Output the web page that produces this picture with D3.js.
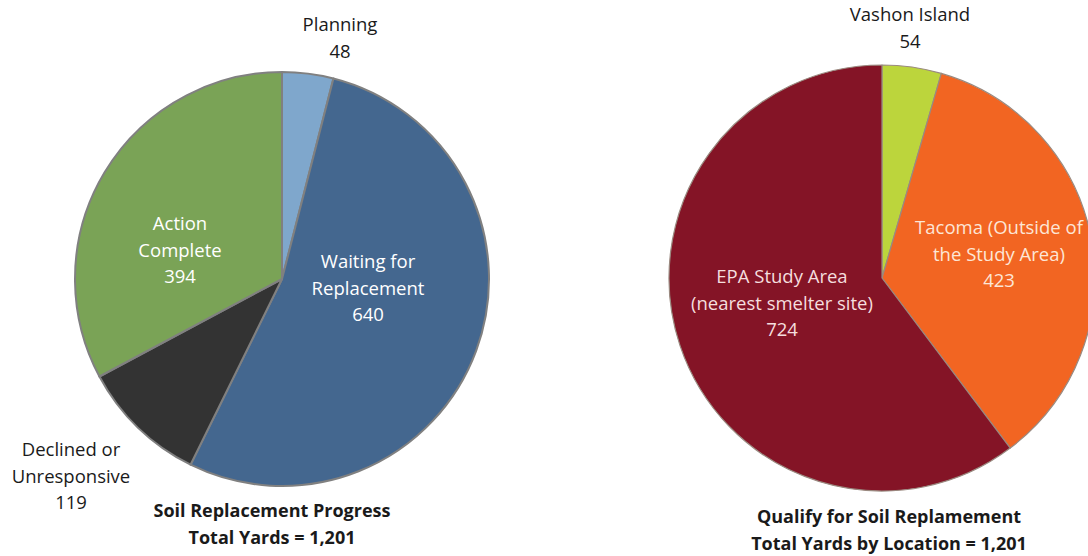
<!DOCTYPE html>
<html>
<head>
<meta charset="utf-8">
<script src="https://cdn.jsdelivr.net/npm/d3@7"></script>
<style>
  body { margin: 0; background: #fff; }
  svg text { font-family: "Open Sans", "Noto Sans", sans-serif; }
</style>
</head>
<body>
<svg id="chart" width="1088" height="556"></svg>
<script>
// left pie: progress
var progressNames = ["Planning", "Waiting for Replacement", "Declined or Unresponsive", "Action Complete"];
var progressValues = [48, 640, 119, 394];
var progressColors = ["#7fa7cc", "#44678f", "#333333", "#7aa356"];

// right pie: location
var locationNames = ["Vashon Island", "Tacoma (Outside of the Study Area)", "EPA Study Area (nearest smelter site)"];
var locationValues = [54, 423, 724];
var locationColors = ["#bcd53c", "#f26522", "#841426"];

var svg = d3.select('#chart');

function drawPie(cfg) {
  var g = svg.append('g')
    .attr('transform', `translate(${cfg.cx},${cfg.cy})`);

  var pie = d3.pie()
    .sort(null)
    .value(d => d);

  var arc = d3.arc()
    .innerRadius(0)
    .outerRadius(cfg.r);

  g.selectAll('path')
    .data(pie(cfg.values))
    .enter()
    .append('path')
      .attr('d', arc)
      .attr('fill', (d, i) => cfg.colors[i])
      .attr('stroke', cfg.stroke)
      .attr('stroke-width', cfg.strokeWidth)
      .attr('stroke-linejoin', 'round');

  // slice labels: name lines + value
  cfg.labels.forEach((lab, i) => {
    var lines = lab.lines.concat([String(cfg.values[i])]);
    var t = svg.append('text')
      .attr('text-anchor', 'middle')
      .attr('font-size', cfg.fontSize)
      .attr('fill', lab.color);
    lines.forEach((s, k) => {
      t.append('tspan')
        .attr('x', lab.x)
        .attr('y', lab.y + k * 26.5)
        .text(s);
    });
  });

  var title = svg.append('text')
    .attr('text-anchor', 'middle')
    .attr('font-size', 18)
    .attr('font-weight', 'bold')
    .attr('fill', '#1a1a1a');
  cfg.title.forEach((s, k) => {
    title.append('tspan')
      .attr('x', cfg.titleX)
      .attr('y', cfg.titleY + k * 26.5)
      .text(s);
  });
}

drawPie({
  cx: 282, cy: 279, r: 207,
  values: progressValues,
  colors: progressColors,
  stroke: '#808080', strokeWidth: 2,
  fontSize: 18.5,
  labels: [
    {lines: ["Planning"], x: 340, y: 31, color: '#1a1a1a'},
    {lines: ["Waiting for", "Replacement"], x: 368, y: 268, color: '#ffffff'},
    {lines: ["Declined or", "Unresponsive"], x: 71, y: 456, color: '#1a1a1a'},
    {lines: ["Action", "Complete"], x: 180, y: 230, color: '#ffffff'}
  ],
  title: ["Soil Replacement Progress", "Total Yards = 1,201"],
  titleX: 272, titleY: 517
});

drawPie({
  cx: 882, cy: 278, r: 213,
  values: locationValues,
  colors: locationColors,
  stroke: '#9a8a80', strokeWidth: 1.2,
  fontSize: 18.5,
  labels: [
    {lines: ["Vashon Island"], x: 910, y: 21, color: '#1a1a1a'},
    {lines: ["Tacoma (Outside of", "the Study Area)"], x: 999, y: 234, color: '#fde6d6'},
    {lines: ["EPA Study Area", "(nearest smelter site)"], x: 782, y: 283, color: '#f5dede'}
  ],
  title: ["Qualify for Soil Replamement", "Total Yards by Location = 1,201"],
  titleX: 889, titleY: 523
});
</script>
</body>
</html>
